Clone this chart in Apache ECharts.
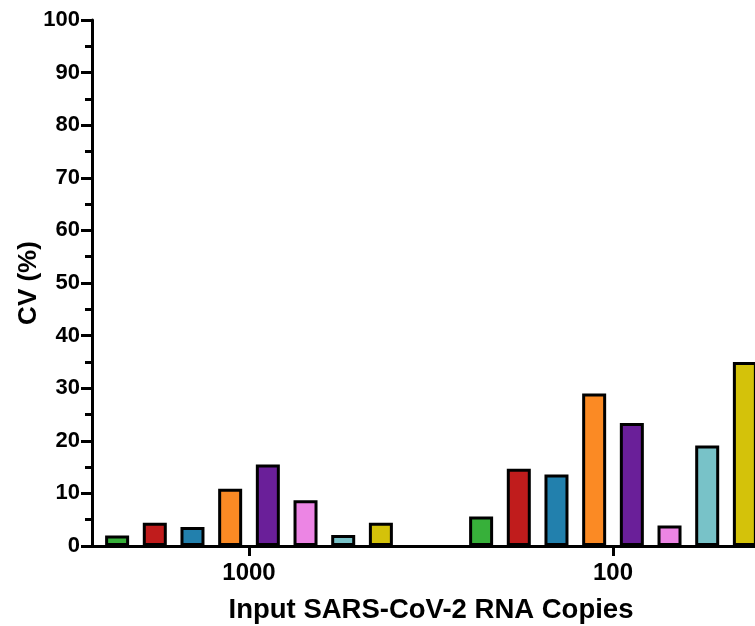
<!DOCTYPE html>
<html>
<head>
<meta charset="utf-8">
<script src="https://cdn.jsdelivr.net/npm/echarts@6/dist/echarts.min.js"></script>
<style>
  html, body { margin: 0; padding: 0; background: #fff; }
  #chart { width: 755px; height: 626px; }
</style>
</head>
<body>
<div id="chart"></div>
<script>
// input copy numbers on the x axis
const categories = ['1000', '100']

// one bar per assay, CV (%) at each input level
const seriesNames = ['S1', 'S2', 'S3', 'S4', 'S5', 'S6', 'S7', 'S8']
const cvValues = [
  [2.0, 5.6],
  [4.4, 14.7],
  [3.6, 13.6],
  [10.9, 29.0],
  [15.5, 23.4],
  [8.7, 3.9],
  [2.1, 19.1],
  [4.4, 35.0],
]
const COLORS = ['#37b03a', '#c01c1c', '#2280ad', '#fb8a24', '#6a1f99', '#ec85e4', '#78c2c8', '#d4c20a']

const yTicks = { min: 0, max: 100, interval: 10 }

const FONT = '"Liberation Sans", Arial, sans-serif'

const chart = echarts.init(document.getElementById('chart'), null, { renderer: 'canvas' })

chart.setOption({
  backgroundColor: '#fff',
  animation: false,
  grid: [
    // bars live here; shifted left so band centres land under the labels
    { left: 67, top: 20, width: 728, height: 526, outerBoundsMode: 'none' },
    // visible axes frame starts at the y axis
    { left: 92, top: 20, right: 0, height: 526, outerBoundsMode: 'none' },
  ],
  xAxis: [
    {
      type: 'category',
      gridIndex: 0,
      data: categories,
      axisLine: { show: false },
      axisTick: { show: true, alignWithLabel: true, length: 10, lineStyle: { color: '#000', width: 3 } },
      axisLabel: { color: '#000', fontFamily: FONT, fontWeight: 'bold', fontSize: 24, margin: 15 },
      name: 'Input SARS-CoV-2 RNA Copies',
      nameLocation: 'middle',
      nameGap: 50,
      nameMoveOverlap: false,
      nameTextStyle: { color: '#000', fontFamily: FONT, fontWeight: 'bold', fontSize: 27.5 },
      splitLine: { show: false },
      z: 3,
    },
    {
      type: 'value',
      gridIndex: 1,
      min: 0,
      max: 1,
      axisLine: { show: true, lineStyle: { color: '#000', width: 3 } },
      axisTick: { show: false },
      axisLabel: { show: false },
      splitLine: { show: false },
    },
  ],
  yAxis: [
    {
      type: 'value',
      gridIndex: 0,
      min: yTicks.min,
      max: yTicks.max,
      show: false,
    },
    {
      type: 'value',
      gridIndex: 1,
      min: yTicks.min,
      max: yTicks.max,
      interval: yTicks.interval,
      axisLine: { show: true, lineStyle: { color: '#000', width: 3 } },
      axisTick: { show: true, length: 11, lineStyle: { color: '#000', width: 3 } },
      minorTick: { show: true, splitNumber: 2, length: 7, lineStyle: { color: '#000', width: 3 } },
      axisLabel: { color: '#000', fontFamily: FONT, fontWeight: 'bold', fontSize: 22, margin: 12 },
      splitLine: { show: false },
      name: 'CV (%)',
      nameLocation: 'middle',
      nameGap: 50,
      nameMoveOverlap: false,
      nameTextStyle: { color: '#000', fontFamily: FONT, fontWeight: 'bold', fontSize: 26 },
    },
  ],
  series: seriesNames.map((name, i) => ({
    name,
    type: 'bar',
    xAxisIndex: 0,
    yAxisIndex: 0,
    barWidth: 24,
    barGap: '57%',
    data: cvValues[i],
    itemStyle: { color: COLORS[i], borderColor: '#000', borderWidth: 3 },
    z: 4,
  })),
})
</script>
</body>
</html>
